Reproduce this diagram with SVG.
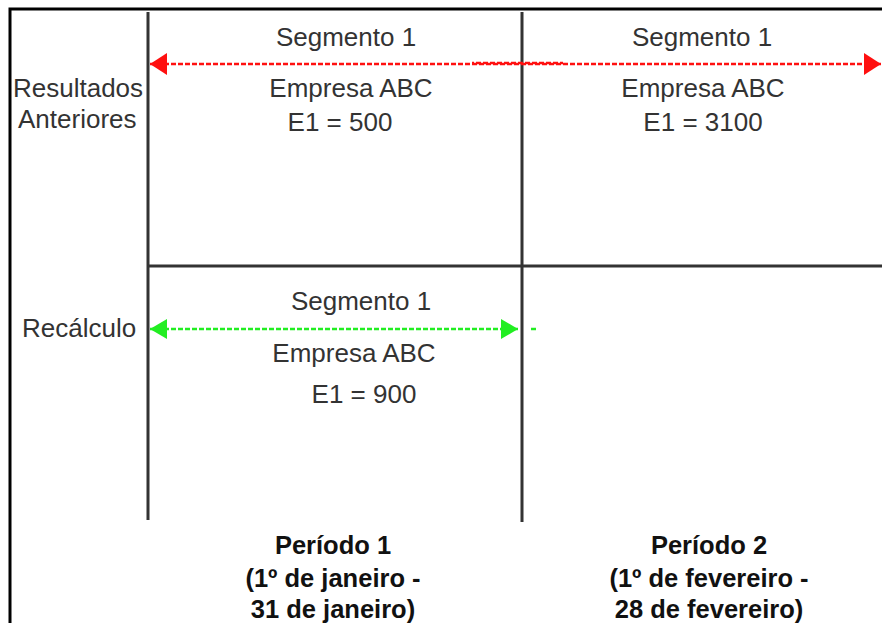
<svg xmlns="http://www.w3.org/2000/svg" width="882" height="623" viewBox="0 0 882 623">
<style>
.t{font-family:"Liberation Sans",Arial,sans-serif;font-size:26px;fill:#333;}
.m{text-anchor:middle;}
.b{font-family:"Liberation Sans",Arial,sans-serif;font-size:25.5px;font-weight:bold;fill:#111;text-anchor:middle;}
.grid{stroke:#333;stroke-width:3;fill:none;}
.red{stroke:#ff1010;stroke-width:2.5;stroke-dasharray:5 2;fill:none;}
.green{stroke:#22ee22;stroke-width:2.5;stroke-dasharray:5 2;fill:none;}
</style>
<defs>
<marker id="rh" markerUnits="userSpaceOnUse" viewBox="0 0 17 22" refX="17" refY="11" markerWidth="17" markerHeight="22" orient="auto-start-reverse"><path d="M0,0 L17,11 L0,22 Z" fill="#ff1010"/></marker>
<marker id="gh" markerUnits="userSpaceOnUse" viewBox="0 0 17 20" refX="17" refY="10" markerWidth="17" markerHeight="20" orient="auto-start-reverse"><path d="M0,0 L17,10 L0,20 Z" fill="#22ee22"/></marker>
</defs>
<rect width="882" height="623" fill="#fff"/>
<g id="frame">
<path d="M10,623 L10,9 L882,9" stroke="#000" stroke-width="3" fill="none"/>
</g>
<g id="grid">
<line class="grid" x1="148" y1="12" x2="148" y2="520"/>
<line class="grid" x1="522" y1="12" x2="522" y2="522"/>
<line class="grid" x1="148" y1="266" x2="882" y2="266" stroke-width="2.5"/>
</g>
<g id="row-labels">
<text class="t" x="13" y="97">Resultados</text>
<text class="t" x="18" y="128">Anteriores</text>
<text class="t" x="22" y="337">Recálculo</text>
</g>
<g id="prev-p1">
<text class="t m" x="346" y="46">Segmento 1</text>
<text class="t m" x="351" y="97">Empresa ABC</text>
<text class="t m" x="340" y="131">E1 = 500</text>
</g>
<g id="prev-p2">
<text class="t m" x="702" y="46">Segmento 1</text>
<text class="t m" x="703" y="97">Empresa ABC</text>
<text class="t m" x="703" y="131">E1 = 3100</text>
</g>
<g id="recalc-p1">
<text class="t m" x="361" y="310">Segmento 1</text>
<text class="t m" x="354" y="362">Empresa ABC</text>
<text class="t m" x="364" y="403">E1 = 900</text>
</g>
<g id="period1">
<text class="b" x="333" y="554">Período 1</text>
<text class="b" x="333" y="587">(1º de janeiro -</text>
<text class="b" x="333" y="618">31 de janeiro)</text>
</g>
<g id="period2">
<text class="b" x="709" y="554">Período 2</text>
<text class="b" x="709" y="587">(1º de fevereiro -</text>
<text class="b" x="709" y="618">28 de fevereiro)</text>
</g>
<g id="connectors">
<line class="red" x1="150" y1="64" x2="881" y2="64" marker-start="url(#rh)" marker-end="url(#rh)"/>
<line class="red" x1="472" y1="63" x2="563" y2="63" stroke-dashoffset="3"/>
<line class="green" x1="150" y1="329" x2="518" y2="329" marker-start="url(#gh)" marker-end="url(#gh)"/>
<line class="green" x1="531" y1="329" x2="537" y2="329" stroke-dasharray="none"/>
</g>
</svg>
